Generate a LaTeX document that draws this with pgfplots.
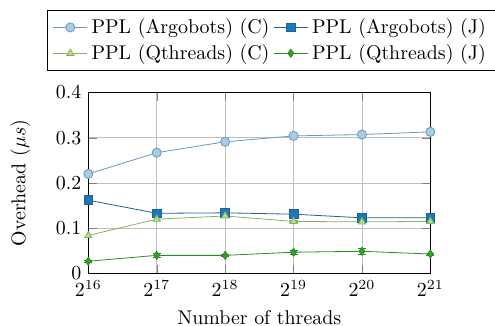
\documentclass[border=0pt]{standalone}
\usepackage{pgfplots}
\pgfplotsset{compat=1.18}
\definecolor{c1}{HTML}{A6CEE3}
\definecolor{c2}{HTML}{1F78B4}
\definecolor{c3}{HTML}{B2DF8A}
\definecolor{c4}{HTML}{33A02C}
\definecolor{l1}{HTML}{6A98B8}
\definecolor{l2}{HTML}{1A62A0}
\definecolor{l3}{HTML}{86B064}
\definecolor{l4}{HTML}{2A8A24}
\begin{document}
\begin{tikzpicture}
\begin{axis}[
  name=ax,
  scale only axis, width=172pt, height=91pt,
  xmin=16, xmax=21, ymin=0, ymax=0.4,
  xtick={16,17,18,19,20,21},
  xticklabels={$2^{16}$,$2^{17}$,$2^{18}$,$2^{19}$,$2^{20}$,$2^{21}$},
  ytick={0,0.1,0.2,0.3,0.4},
  yticklabels={0,0.1,0.2,0.3,0.4},
  grid=major,
  xlabel={Number of threads},
  ylabel={Overhead ($\mu s$)},
  ylabel shift=6pt,
  legend columns=2,
  legend style={at={(-0.122,1.121)}, anchor=south west, font=\normalsize},
  legend cell align=left,
  clip=false,
]
\addplot[color=l1, mark=*, mark size=2.3pt, mark options={fill=c1, draw=l1}, error bars/.cd, y dir=both, y explicit]
 coordinates {(16,0.220) (17,0.267) (18,0.291) (19,0.304) (20,0.307) (21,0.313)};
\addlegendentry{PPL (Argobots) (C)}
\addplot[color=l2, mark=square*, mark size=2.2pt, mark options={fill=c2, draw=l2}, error bars/.cd, y dir=both, y explicit]
 coordinates {(16,0.162) (17,0.133) (18,0.134) (19,0.131) (20,0.123) (21,0.123)};
\addlegendentry{PPL (Argobots) (J)}
\addplot[color=l3, mark=triangle*, mark size=2.1pt, mark options={fill=c3, draw=l3}, error bars/.cd, y dir=both, y explicit]
 coordinates {(16,0.084) (17,0.120) (18,0.127) (19,0.115) +- (0,0.003) (20,0.114) +- (0,0.004) (21,0.115)};
\addlegendentry{PPL (Qthreads) (C)}
\addplot[color=l4, mark=diamond*, mark size=2pt, mark options={fill=c4, draw=l4}, error bars/.cd, y dir=both, y explicit]
 coordinates {(16,0.027) +- (0,0.002) (17,0.040) +- (0,0.005) (18,0.040) +- (0,0.002) (19,0.047) +- (0,0.004) (20,0.049) +- (0,0.007) (21,0.043) +- (0,0.002)};
\addlegendentry{PPL (Qthreads) (J)}
\end{axis}
\pgfresetboundingbox
\path ([xshift=-44.4pt,yshift=-26.3pt]ax.south west) rectangle ([xshift=32.5pt,yshift=46.5pt]ax.north east);
\end{tikzpicture}
\end{document}
